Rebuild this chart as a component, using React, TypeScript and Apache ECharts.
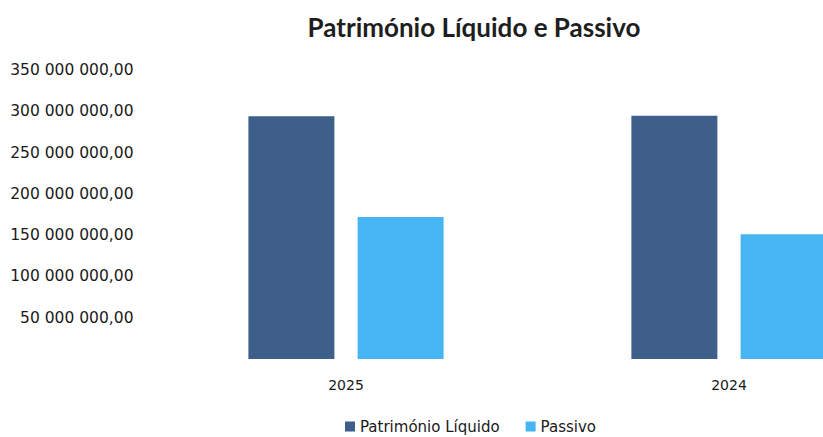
import React, { useEffect, useRef } from "react";
import * as echarts from "echarts";

const categories = ["2025", "2024"];
const patrimonioLiquido = [294000000, 294500000];
const passivo = [172000000, 151000000];
const yTicks = { min: 0, max: 350000000, interval: 50000000 };
const seriesNames = ["Património Líquido", "Passivo"];

function fmt(v: number): string {
  if (v === 0) return "";
  const s = Math.round(v).toString().replace(/\B(?=(\d{3})+(?!\d))/g, " ");
  return s + ",00";
}

export default function App() {
  const ref = useRef<HTMLDivElement>(null);
  useEffect(() => {
    if (!ref.current) return;
    const chart = echarts.init(ref.current, undefined, { renderer: "svg" });
    chart.setOption({
      animation: false,
      backgroundColor: "#ffffff",
      title: {
        text: "Património Líquido e Passivo",
        left: 469,
        top: 9,
        textAlign: "center",
        textStyle: { fontFamily: "Lato", fontSize: 26, fontWeight: "bold", color: "#1e1e1e" },
      },
      legend: {
        left: 340,
        top: 414,
        itemWidth: 10,
        itemHeight: 10,
        itemGap: 26,
        icon: "rect",
        textStyle: { fontFamily: "DejaVu Sans", fontSize: 15, color: "#1a1a1a" },
        data: seriesNames,
      },
      grid: { left: 154.5, right: 79.5, top: 70, bottom: 78 },
      xAxis: {
        type: "category",
        data: categories,
        axisLine: { show: false },
        axisTick: { show: false },
        axisLabel: { margin: 19, fontFamily: "DejaVu Sans", fontSize: 14, color: "#1a1a1a" },
      },
      yAxis: {
        type: "value",
        min: yTicks.min,
        max: yTicks.max,
        interval: yTicks.interval,
        splitLine: { show: false },
        axisLine: { show: false },
        axisTick: { show: false },
        axisLabel: {
          formatter: (v: number) => fmt(v),
          margin: 21,
          fontFamily: "DejaVu Sans",
          fontSize: 15.5,
          color: "#1a1a1a",
        },
      },
      series: [
        {
          name: seriesNames[0],
          type: "bar",
          data: patrimonioLiquido,
          barWidth: 86,
          barGap: "27%",
          itemStyle: { color: "#3d5f8a" },
        },
        {
          name: seriesNames[1],
          type: "bar",
          data: passivo,
          barWidth: 86,
          itemStyle: { color: "#46b5f2" },
        },
      ],
    });
    return () => chart.dispose();
  }, []);
  return (
    <div style={{ position: "fixed", left: 0, top: 0, width: 823, height: 437, overflow: "hidden", background: "#fff" }}>
      <div ref={ref} style={{ width: 1000, height: 437 }} />
    </div>
  );
}
